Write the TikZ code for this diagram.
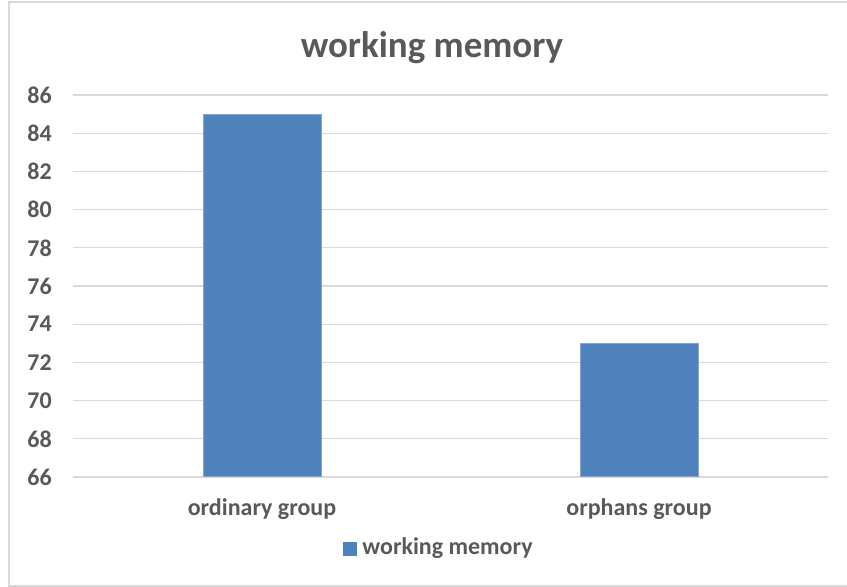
\documentclass[tikz,border=0pt]{standalone}
\usepackage{fontspec}
\setmainfont{Carlito}
\usetikzlibrary{positioning}
\definecolor{ink}{HTML}{595959}
\definecolor{barblue}{HTML}{4F81BD}
\definecolor{gridgray}{HTML}{D9D9D9}
\tikzset{
  grid/.style={draw=gridgray,line width=1.3pt},
  frame/.style={draw=gridgray,line width=1.3pt},
  bar/.style={fill=barblue,draw=barblue!70!white,line width=.6pt,
    minimum width=118pt,inner sep=0pt,anchor=south},
  tick/.style={font=\fontsize{24}{26}\selectfont\bfseries,text=ink,
    anchor=east,inner sep=0pt},
  catlabel/.style={font=\fontsize{24}{26}\selectfont\bfseries,text=ink,
    inner sep=0pt},
  charttitle/.style={font=\fontsize{37}{40}\selectfont\bfseries,text=ink,
    inner sep=0pt}
}

\begin{document}
\begin{tikzpicture}[x=1pt,y=-1pt]
\useasboundingbox (0,0) rectangle (847,587);
\draw[frame] (852,2) -- (9,2) -- (9,586) -- (852,586);

\node[charttitle] (title) at (432,48) {working memory};

% value axis: 66 at y=477, 19.1 per unit
\foreach \v in {66,68,...,86}{
  \pgfmathsetmacro\gy{477-(\v-66)*19.1}
  \draw[grid] (73,\gy) -- (828,\gy);
  \node[tick] at (52,\gy) {\v};
}

\node[bar,minimum height={(85-66)*19.1pt}] (ordinary) at (262,477) {};
\node[bar,minimum height={(73-66)*19.1pt}] (orphans) at (639,477) {};

\node[catlabel] (ordlab) at (262,509) {ordinary group};
\node[catlabel] (orplab) at (639,509) {orphans group};

\node[fill=barblue,minimum size=14pt,inner sep=0pt] (key) at (350,548.5) {};
\node[catlabel,anchor=west,right=5pt of key] (keylab) {working memory};
\end{tikzpicture}
\end{document}
